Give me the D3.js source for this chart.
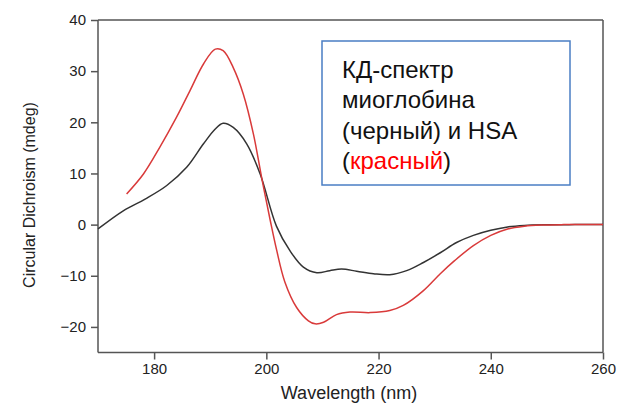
<!DOCTYPE html>
<html><head><meta charset="utf-8">
<script src="https://cdn.jsdelivr.net/npm/d3@7"></script>
<style>body{margin:0;background:#fff;} svg{display:block;font-family:"Liberation Sans",Arial,sans-serif;}</style>
</head><body>
<script>
// Data (wavelength nm, CD mdeg)
const myoWave = [170,174.5,178.4,182.2,185.8,188.8,190.9,192.3,194.1,196.5,198.9,201.8,204.2,206.6,209.0,211.3,213.4,216.1,219.1,222.0,225.0,228.0,231.0,233.9,236.9,240.0,243.0,246.0,250,255,260];
const myoCD   = [-0.85,2.7,5.0,7.6,11.2,15.8,18.7,19.8,19.0,15.8,9.9,-0.3,-5.1,-8.3,-9.4,-9.0,-8.7,-9.1,-9.6,-9.8,-9.0,-7.4,-5.5,-3.5,-2.1,-1.1,-0.45,-0.15,-0.03,0,0];
const hsaWave = [175.1,178.1,181.0,184.0,186.4,188.8,190.9,192.3,194.1,195.9,197.7,199.2,200.7,201.8,203.3,205.4,207.5,208.7,210.2,212.5,214.9,218.5,222.0,224.4,228.0,231.0,233.6,236.9,240.0,243.0,246.0,249,253,260];
const hsaCD   = [6.0,9.9,15.1,21.0,26.2,31.4,34.3,34.0,30.7,25.5,17.7,9.0,0.8,-4.8,-11.2,-16.2,-18.8,-19.4,-19.1,-17.6,-17.1,-17.2,-16.8,-15.8,-12.9,-9.6,-7.0,-4.1,-2.1,-0.85,-0.3,-0.08,0,0];
const xTicks = [180,200,220,240,260];
const yTicks = [-20,-10,0,10,20,30,40];
const legendLines = ["КД-спектр","миоглобина","(черный) и HSA"];

const W=620,H=405;
const svg=d3.select("body").append("svg").attr("width",W).attr("height",H);
const x=d3.scaleLinear().domain([170,260]).range([98,603]);
const y=d3.scaleLinear().domain([-25,40]).range([352.5,20]);
const axCol="#555";

// frame top/right
svg.append("line").attr("x1",x(170)).attr("x2",x(260)).attr("y1",y(40)).attr("y2",y(40)).attr("stroke",axCol).attr("stroke-width",1.5);
svg.append("line").attr("x1",x(260)).attr("x2",x(260)).attr("y1",y(40)).attr("y2",y(-25)).attr("stroke",axCol).attr("stroke-width",1.5);

// x axis
const gx=svg.append("g").attr("transform",`translate(0,${y(-25)})`);
gx.call(d3.axisBottom(x).tickValues(d3.range(170,261,10)).tickSize(5).tickFormat(""));
gx.call(d3.axisBottom(x).tickValues(xTicks).tickSize(7).tickPadding(4).tickFormat(d3.format("d")));
gx.selectAll("path,line").attr("stroke",axCol).attr("stroke-width",1.5);
gx.select(".domain").attr("d",`M${x(170)},0H${x(260)}`);
gx.selectAll("text").attr("font-size",15).attr("fill","#222").attr("font-family","Liberation Sans, Arial, sans-serif");

// y axis
const gy=svg.append("g").attr("transform",`translate(${x(170)},0)`);
gy.call(d3.axisLeft(y).tickValues(d3.range(-25,41,5)).tickSize(5).tickFormat(""));
gy.call(d3.axisLeft(y).tickValues(yTicks).tickSize(7).tickPadding(5).tickFormat(d3.format("d")));
gy.selectAll("path,line").attr("stroke",axCol).attr("stroke-width",1.5);
gy.select(".domain").attr("d",`M0,${y(-25)}V${y(40)}`);
gy.selectAll("text").attr("font-size",15).attr("fill","#222").attr("font-family","Liberation Sans, Arial, sans-serif");

// axis titles
svg.append("text").attr("x",349).attr("y",399).attr("text-anchor","middle").attr("font-size",18).attr("fill","#222").text("Wavelength (nm)");
svg.append("text").attr("transform","translate(35,195) rotate(-90)").attr("text-anchor","middle").attr("font-size",16).attr("fill","#222").text("Circular Dichroism (mdeg)");

// lines
const line=d3.line().x(d=>x(d[0])).y(d=>y(d[1])).curve(d3.curveCatmullRom.alpha(0.5));
svg.append("path").datum(myoWave.map((w,i)=>[w,myoCD[i]])).attr("d",line).attr("fill","none").attr("stroke","#333").attr("stroke-width",1.5);
svg.append("path").datum(hsaWave.map((w,i)=>[w,hsaCD[i]])).attr("d",line).attr("fill","none").attr("stroke","#d93a3a").attr("stroke-width",1.5);

// legend box
svg.append("rect").attr("x",322).attr("y",41).attr("width",248).attr("height",144).attr("fill","#fff").attr("stroke","#4a7ec4").attr("stroke-width",1.5);
const lt=svg.append("g").attr("font-size",24).attr("fill","#111");
legendLines.forEach((t,i)=>lt.append("text").attr("x",342).attr("y",78+i*30.3).text(t));
const l4=lt.append("text").attr("x",342).attr("y",78+3*30.3);
l4.append("tspan").text("(");
l4.append("tspan").attr("fill","#f00").text("красный");
l4.append("tspan").text(")");
</script>
</body></html>
